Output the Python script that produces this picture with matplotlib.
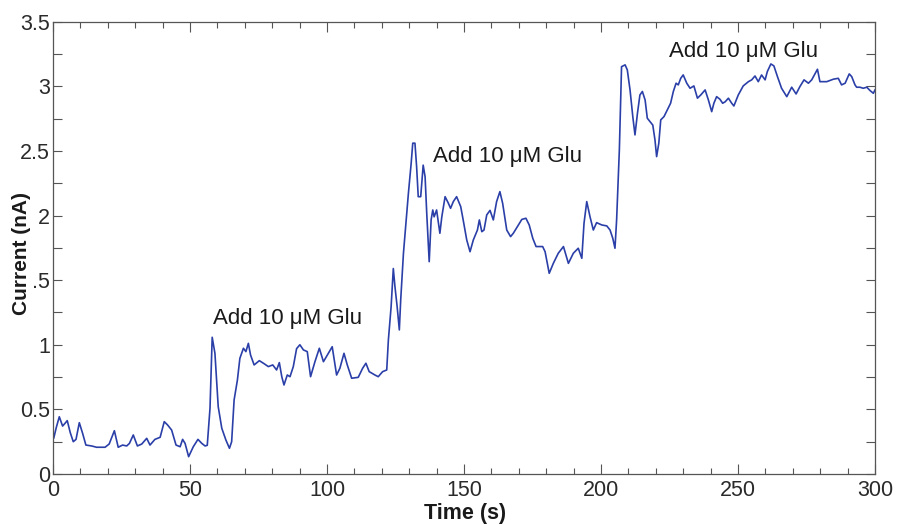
import matplotlib
matplotlib.use("Agg")
import matplotlib.pyplot as plt
from matplotlib.ticker import MultipleLocator, FixedLocator, FixedFormatter

time_s = [0.3, 1.2, 2.3, 3.5, 4.3, 5.2, 6.3, 7.4, 8.4, 9.6, 10.8, 12.0, 14.1, 15.9, 19.0, 20.5,
          22.4, 23.8, 25.4, 26.9, 27.9, 29.3, 30.8, 32.4, 34.2, 35.4, 37.2, 39.1, 40.6, 41.8,
          43.3, 44.9, 46.4, 47.3, 48.2, 49.5, 51.2, 52.9, 54.3, 55.5, 56.3, 57.3, 58.1, 59.1,
          60.3, 61.6, 63.1, 64.4, 65.2, 66.1, 67.3, 68.2, 69.5, 70.4, 71.3, 72.1, 73.4, 75.3,
          76.8, 78.6, 80.2, 81.6, 82.6, 83.5, 84.3, 85.5, 86.5, 87.7, 88.9, 90.1, 91.4, 92.8,
          94.0, 95.6, 97.2, 98.7, 100.5, 101.9, 103.5, 104.7, 106.2, 107.4, 109.0, 111.4,
          113.0, 114.2, 115.4, 117.5, 118.7, 120.3, 121.8, 122.4, 123.4, 124.2, 124.8, 125.6,
          126.4, 126.9, 127.9, 128.8, 129.7, 130.7, 131.3, 132.1, 132.7, 133.3, 134.2, 135.1,
          135.8, 136.4, 137.3, 138.0, 138.6, 139.1, 140.0, 141.2, 141.9, 143.1, 144.3, 145.1,
          146.1, 147.3, 148.8, 149.7, 151.0, 152.2, 153.4, 154.9, 155.6, 156.5, 157.3, 158.3,
          159.5, 160.7, 161.9, 163.1, 164.1, 165.6, 167.0, 168.0, 169.5, 171.1, 172.6, 173.8,
          175.1, 176.3, 178.7, 179.6, 181.1, 182.6, 184.4, 186.3, 188.1, 189.9, 191.7, 193.0,
          193.8, 194.8, 196.0, 197.2, 198.4, 200.3, 202.1, 203.3, 204.3, 205.1, 205.7, 206.7,
          207.5, 208.8, 209.6, 210.6, 211.6, 212.4, 213.3, 214.2, 215.1, 216.1, 216.9, 217.9,
          218.9, 219.7, 220.3, 221.1, 221.8, 223.0, 224.2, 225.4, 226.4, 227.4, 228.2, 229.1,
          230.0, 231.3, 232.5, 233.9, 235.2, 236.4, 238.0, 239.2, 240.4, 241.2, 242.2, 243.4,
          244.4, 245.3, 246.5, 247.7, 248.5, 250.1, 251.9, 253.8, 255.0, 256.2, 257.4, 258.6,
          259.9, 260.7, 262.0, 263.1, 264.4, 265.9, 267.8, 269.6, 271.2, 272.6, 274.1, 275.7,
          276.9, 279.0, 279.9, 282.4, 284.8, 286.6, 287.8, 289.1, 290.6, 291.5, 292.7, 293.3,
          294.5, 295.7, 297.0, 298.2, 299.4, 300.0]

current_nA = [0.28, 0.36, 0.443, 0.371, 0.39, 0.413, 0.32, 0.25, 0.268, 0.397, 0.315, 0.224, 0.217, 0.207, 0.207, 0.232,
              0.335, 0.207, 0.224, 0.217, 0.237, 0.302, 0.217, 0.232, 0.276, 0.224, 0.268, 0.284, 0.405, 0.38,
              0.34, 0.224, 0.211, 0.268, 0.237, 0.134, 0.211, 0.268, 0.237, 0.217, 0.222, 0.508, 1.058, 0.934,
              0.521, 0.354, 0.263, 0.199, 0.25, 0.573, 0.727, 0.895, 0.973, 0.947, 1.011, 0.921, 0.844, 0.877,
              0.857, 0.831, 0.844, 0.805, 0.862, 0.753, 0.689, 0.766, 0.753, 0.831, 0.97, 1.0, 0.96, 0.947,
              0.753, 0.869, 0.973, 0.869, 0.934, 0.985, 0.766, 0.818, 0.934, 0.844, 0.741, 0.748,
              0.818, 0.857, 0.792, 0.766, 0.753, 0.792, 0.805, 1.037, 1.295, 1.59, 1.45, 1.295,
              1.115, 1.347, 1.708, 1.94, 2.17, 2.40, 2.56, 2.56, 2.38, 2.146, 2.146, 2.39,
              2.30, 2.018, 1.643, 1.966, 2.043, 1.99, 2.043, 1.863, 1.99, 2.146, 2.095, 2.056,
              2.108, 2.146, 2.069, 1.966, 1.811, 1.72, 1.811, 1.888, 1.966, 1.875, 1.888, 2.005,
              2.04, 1.966, 2.108, 2.185, 2.095, 1.888, 1.837, 1.863, 1.914, 1.97, 1.979, 1.927,
              1.824, 1.76, 1.76, 1.72, 1.553, 1.63, 1.708, 1.76, 1.63, 1.708, 1.747, 1.669,
              1.94, 2.108, 1.99, 1.888, 1.945, 1.927, 1.92, 1.888, 1.824, 1.747, 1.966, 2.508,
              3.152, 3.166, 3.127, 2.972, 2.766, 2.624, 2.79, 2.933, 2.96, 2.894, 2.753, 2.727,
              2.70, 2.585, 2.456, 2.56, 2.74, 2.766, 2.817, 2.869, 2.96, 3.024, 3.011, 3.062,
              3.088, 3.024, 2.985, 3.003, 2.908, 2.933, 2.972, 2.894, 2.804, 2.869, 2.92, 2.90,
              2.869, 2.88, 2.908, 2.869, 2.848, 2.933, 3.003, 3.036, 3.05, 3.08, 3.036, 3.088,
              3.05, 3.114, 3.173, 3.158, 3.075, 2.985, 2.92, 2.993, 2.941, 2.998, 3.05, 3.024,
              3.05, 3.132, 3.036, 3.036, 3.055, 3.062, 3.011, 3.024, 3.096, 3.075, 3.011, 2.993,
              2.993, 2.985, 2.993, 2.967, 2.946, 2.972]

annot_text = "Add 10 \u03bcM Glu"
annot_t = [58.5, 138.6, 224.9]
annot_v = [1.161, 2.417, 3.225]

x_ticks = [0, 50, 100, 150, 200, 250, 300]
y_ticks = [0, 0.5, 1.0, 1.5, 2.0, 2.5, 3.0, 3.5]
y_tick_labels = ["0", "0.5", "1", ".5", "2", "2.5", "3", "3.5"]

plt.rcParams['font.family'] = ['Liberation Sans', 'DejaVu Sans']

fig = plt.figure(figsize=(8.97, 5.25), dpi=100)
ax = fig.add_axes([53 / 897, 1 - 474 / 525, (875 - 53) / 897, (474 - 21.7) / 525])

ax.plot(time_s, current_nA, color='#2b3fa8', lw=1.2)

for t, v in zip(annot_t, annot_v):
    ax.text(t, v, annot_text, fontsize=16, color='#1a1a1a', ha='left', va='baseline')

ax.set_xlim(0, 300)
ax.set_ylim(0, 3.5)
ax.xaxis.set_major_locator(FixedLocator(x_ticks))
ax.xaxis.set_minor_locator(MultipleLocator(10))
ax.yaxis.set_major_locator(FixedLocator(y_ticks))
ax.yaxis.set_major_formatter(FixedFormatter(y_tick_labels))
ax.yaxis.set_minor_locator(MultipleLocator(0.25))

for s in ax.spines.values():
    s.set_color('#555555')
    s.set_linewidth(0.9)

ax.tick_params(which='both', direction='in', top=True, right=True, colors='#555555',
               labelcolor='#2a2a2a', labelsize=15.5, width=0.8)
ax.tick_params(axis='x', which='major', length=7, pad=4)
ax.tick_params(axis='x', which='minor', length=4.5)
ax.tick_params(axis='y', which='both', length=6.5, pad=2)

ax.set_xlabel("Time (s)", fontsize=15.5, fontweight='bold', color='#1a1a1a', va='center')
ax.set_ylabel("Current (nA)", fontsize=15, fontweight='bold', color='#1a1a1a', va='center')
ax.xaxis.set_label_coords(0.501, -(514 - 474) / 452.3)
ax.yaxis.set_label_coords((22 - 53) / 822, (474 - 254) / 452.3)

fig.savefig("out.png", dpi=100)
